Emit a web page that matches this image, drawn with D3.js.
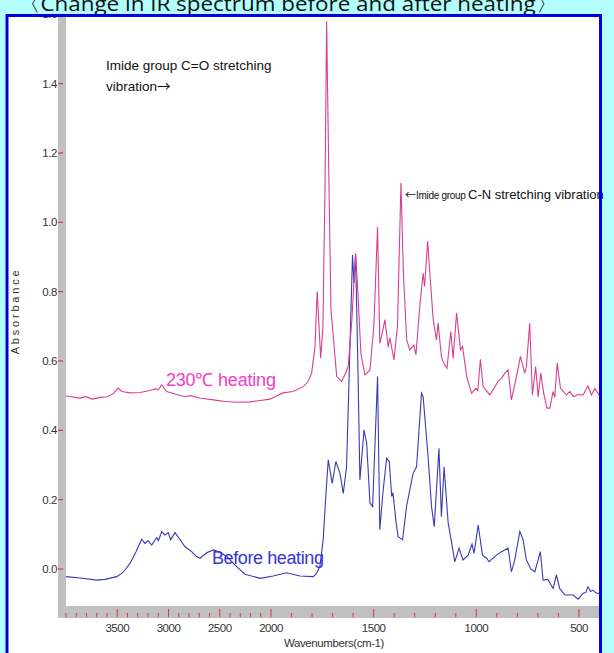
<!DOCTYPE html>
<html><head><meta charset="utf-8">
<script src="https://cdn.jsdelivr.net/npm/d3@7"></script>
<style>html,body{margin:0;padding:0;background:#b3ffff;}svg{display:block;}</style>
</head><body>
<script>
// ---- data (wavenumber cm-1, absorbance) ----
const heatedWn = [4000,3863,3805,3746,3668,3600,3541,3493,3454,3376,3278,3180,3122,3103,3066,3018,2937,2839,2790,2693,2546,2449,2335,2205,2107,2010,1942,1893,1843,1820,1802,1786,1775,1766,1758,1747,1737,1729,1720,1708,1680,1656,1640,1624,1606,1588,1577,1562,1542,1518,1499,1481,1470,1455,1445,1429,1421,1401,1384,1367,1355,1339,1324,1304,1294,1275,1259,1252,1237,1226,1210,1194,1186,1170,1162,1143,1124,1113,1096,1077,1067,1047,1023,1002,993,980,967,934,894,877,861,845,829,808,785,764,756,740,727,711,699,686,672,656,642,626,618,606,590,561,545,526,506,480,456,439,423,402];
const heatedAbs = [0.499,0.493,0.497,0.490,0.495,0.497,0.505,0.522,0.512,0.508,0.509,0.515,0.520,0.516,0.531,0.512,0.505,0.497,0.500,0.493,0.487,0.483,0.481,0.482,0.486,0.490,0.508,0.512,0.526,0.540,0.565,0.640,0.800,0.700,0.608,0.700,1.100,1.580,1.200,0.750,0.555,0.541,0.560,0.584,0.720,0.911,0.800,0.620,0.560,0.574,0.700,0.986,0.651,0.690,0.719,0.640,0.667,0.603,0.700,1.113,0.850,0.661,0.632,0.646,0.618,0.760,0.853,0.815,0.945,0.850,0.719,0.661,0.710,0.613,0.598,0.579,0.685,0.608,0.738,0.632,0.642,0.555,0.507,0.521,0.515,0.605,0.526,0.502,0.541,0.550,0.565,0.574,0.488,0.545,0.613,0.565,0.584,0.709,0.502,0.584,0.497,0.565,0.507,0.464,0.464,0.512,0.495,0.594,0.521,0.502,0.512,0.497,0.503,0.502,0.528,0.502,0.521,0.502];
const beforeWn = [4000,3863,3700,3620,3505,3444,3376,3317,3262,3229,3200,3164,3115,3098,3066,3034,3002,2979,2937,2888,2839,2774,2732,2693,2627,2563,2498,2432,2335,2254,2107,1989,1924,1859,1794,1781,1762,1746,1732,1721,1702,1684,1664,1648,1632,1619,1603,1596,1588,1576,1567,1547,1534,1518,1505,1491,1481,1470,1455,1437,1424,1412,1406,1392,1381,1359,1340,1308,1291,1267,1259,1235,1218,1205,1197,1182,1170,1157,1137,1121,1105,1084,1065,1040,1021,1011,991,970,950,938,902,877,845,829,813,788,772,756,735,715,688,675,652,626,610,594,569,528,504,480,467,456,443,432,415,402];
const beforeAbs = [-0.022,-0.026,-0.032,-0.030,-0.022,-0.010,0.016,0.050,0.086,0.074,0.082,0.069,0.091,0.082,0.108,0.098,0.105,0.084,0.105,0.085,0.064,0.050,0.037,0.031,0.047,0.055,0.048,0.036,0.007,-0.015,-0.027,-0.020,-0.011,-0.020,-0.022,-0.015,0.007,0.084,0.220,0.315,0.247,0.310,0.276,0.218,0.295,0.565,0.906,0.825,0.906,0.565,0.257,0.401,0.363,0.190,0.180,0.400,0.555,0.113,0.220,0.319,0.310,0.209,0.220,0.141,0.093,0.084,0.180,0.276,0.295,0.507,0.497,0.324,0.180,0.122,0.200,0.348,0.151,0.295,0.132,0.079,0.021,0.060,0.026,0.040,0.072,0.045,0.127,0.040,0.031,0.021,0.040,0.050,0.060,-0.008,0.026,0.108,0.084,0.026,0.000,-0.008,0.050,-0.032,-0.030,-0.056,-0.017,-0.056,-0.075,-0.075,-0.087,-0.070,-0.068,-0.051,-0.065,-0.061,-0.070,-0.070];
const yTicks = [0.0,0.2,0.4,0.6,0.8,1.0,1.2,1.4,1.6];
const xMajorTicks = [3500,3000,2500,2000,1500,1000,500];
const xMinorTicks = d3.range(4000, 399, -100);
const titleText = "〈Change in IR spectrum before and after heating〉";

const W = 614, H = 653;
const svg = d3.select("body").append("svg").attr("width", W).attr("height", H);
const x = d3.scaleLinear().domain([4000, 2000, 400]).range([66, 271, 599.5]);
const y = d3.scaleLinear().domain([0, 1.6]).range([569, 14.3]);

// title (cut at top)
svg.append("text").attr("x", 18).attr("y", 11).attr("font-family", "Open Sans, sans-serif")
  .attr("font-size", 20).attr("fill", "#111").attr("textLength", 540).attr("lengthAdjust", "spacingAndGlyphs")
  .text(titleText);

// white panel
svg.append("rect").attr("x", 7).attr("y", 15).attr("width", 594).attr("height", 645).attr("fill", "#fff");

// gray axis bars
svg.append("rect").attr("x", 58).attr("y", 15).attr("width", 8).attr("height", 603).attr("fill", "#c0c0c0");
svg.append("rect").attr("x", 58).attr("y", 606).attr("width", 542).attr("height", 12).attr("fill", "#c0c0c0");

// clip for y labels (top label partly hidden under the frame)
svg.append("clipPath").attr("id", "ylabclip").append("rect").attr("x", 0).attr("y", 17).attr("width", 66).attr("height", 600);

// y ticks & labels
const yg = svg.append("g").attr("clip-path", "url(#ylabclip)");
yg.selectAll("line").data(yTicks).join("line")
  .attr("x1", 58).attr("x2", 63).attr("y1", d => y(d)).attr("y2", d => y(d))
  .attr("stroke", "#e0303a").attr("stroke-width", 1.2);
yg.selectAll("text").data(yTicks).join("text")
  .attr("x", 57).attr("y", d => y(d)).attr("dy", "0.35em").attr("text-anchor", "end")
  .attr("font-family", "Liberation Sans, Arial, sans-serif").attr("font-size", 11.5).attr("fill", "#333")
  .attr("letter-spacing", "-0.4")
  .text(d => d.toFixed(1));

// x ticks
const xg = svg.append("g");
xg.selectAll("line.minor").data(xMinorTicks).join("line").attr("class", "minor")
  .attr("x1", d => x(d)).attr("x2", d => x(d)).attr("y1", d => xMajorTicks.includes(d) ? 609 : 613).attr("y2", 617)
  .attr("stroke", "#e0303a").attr("stroke-width", 1);
xg.selectAll("text").data(xMajorTicks).join("text")
  .attr("x", d => x(d)).attr("y", 628).attr("dy", "0.35em").attr("text-anchor", "middle")
  .attr("font-family", "Liberation Sans, Arial, sans-serif").attr("font-size", 11.5).attr("fill", "#333")
  .attr("letter-spacing", "-0.5")
  .text(d => d);

// axis titles
svg.append("text").attr("x", 334).attr("y", 643).attr("dy", "0.35em").attr("text-anchor", "middle")
  .attr("font-family", "Liberation Sans, Arial, sans-serif").attr("font-size", 11.5).attr("fill", "#333")
  .attr("letter-spacing", "-0.4").text("Wavenumbers(cm-1)");
svg.append("text").attr("transform", "translate(15,311) rotate(-90)").attr("dy", "0.35em").attr("text-anchor", "middle")
  .attr("font-family", "Liberation Sans, Arial, sans-serif").attr("font-size", 11).attr("fill", "#333")
  .attr("letter-spacing", "2.8").text("Absorbance");

// curves
svg.append("clipPath").attr("id", "plotclip").append("rect").attr("x", 66).attr("y", 15).attr("width", 534).attr("height", 591);
const line = d3.line().x(d => x(d[0])).y(d => y(d[1]));
const heated = heatedWn.map((w, i) => [w, heatedAbs[i]]);
const before = beforeWn.map((w, i) => [w, beforeAbs[i]]);
const cg = svg.append("g").attr("clip-path", "url(#plotclip)");
cg.append("path").datum(before).attr("d", line).attr("fill", "none").attr("stroke", "#3a3ab4").attr("stroke-width", 1.1);
cg.append("path").datum(heated).attr("d", line).attr("fill", "none").attr("stroke", "#d8408e").attr("stroke-width", 1.1);

// annotations
const ann = svg.append("g").attr("font-family", "Liberation Sans, Arial, sans-serif").attr("fill", "#111");
ann.append("text").attr("x", 106).attr("y", 70).attr("font-size", 13.5).text("Imide group C=O stretching");
const v2 = ann.append("text").attr("x", 106).attr("y", 91).attr("font-size", 13.5);
v2.append("tspan").text("vibration");
v2.append("tspan").attr("font-family", "Noto Sans CJK JP, sans-serif").text("→");
const cn = ann.append("text").attr("x", 405).attr("y", 199).attr("font-size", 13);
cn.append("tspan").attr("font-family", "Noto Sans CJK JP, sans-serif").attr("font-size", 11).text("←");
cn.append("tspan").attr("font-size", 10).attr("letter-spacing", "-0.3").text("Imide group ");
cn.append("tspan").text("C-N stretching vibration");

svg.append("text").attr("x", 166).attr("y", 386).attr("font-family", "Liberation Sans, Arial, sans-serif")
  .attr("font-size", 18).attr("fill", "#f43cc8").attr("letter-spacing", "-0.2").text("230℃ heating");
svg.append("text").attr("x", 212).attr("y", 564).attr("font-family", "Liberation Sans, Arial, sans-serif")
  .attr("font-size", 18).attr("fill", "#3535dd").attr("letter-spacing", "-0.4").text("Before heating");

// blue frame
svg.append("rect").attr("x", 7).attr("y", 15.5).attr("width", 593.5).attr("height", 650)
  .attr("fill", "none").attr("stroke", "#0000e6").attr("stroke-width", 3);
</script>
</body></html>
